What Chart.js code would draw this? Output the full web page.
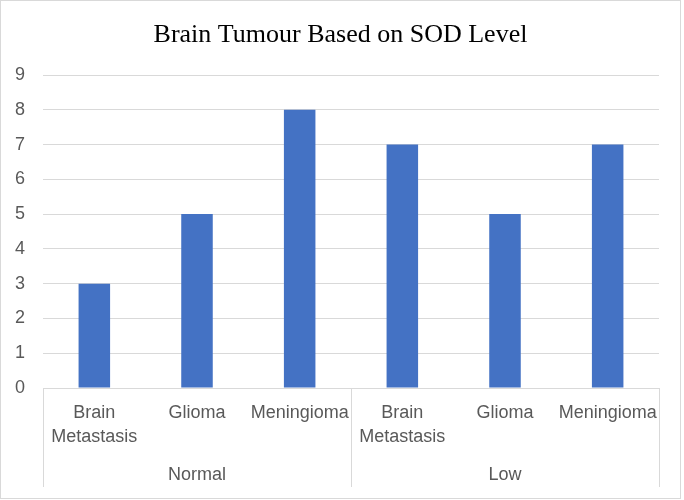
<!DOCTYPE html>
<html>
<head>
<meta charset="utf-8">
<script src="https://cdn.jsdelivr.net/npm/chart.js@4"></script>
<style>
  html, body { margin: 0; padding: 0; background: #ffffff; }
  #frame { position: absolute; left: 0; top: 0; width: 679px; height: 497px; border: 1px solid #d9d9d9; background: #fff; }
  canvas { display: block; }
</style>
</head>
<body>
<div id="frame"><canvas id="c" width="679" height="497"></canvas></div>
<script>
const titleText = 'Brain Tumour Based on SOD Level';
const categories = [['Brain', 'Metastasis'], 'Glioma', 'Meningioma', ['Brain', 'Metastasis'], 'Glioma', 'Meningioma'];
const groups = ['Normal', 'Low'];
const groupSizes = [3, 3];
const values = [3, 5, 8, 7, 5, 7];
const yTicks = [0, 1, 2, 3, 4, 5, 6, 7, 8, 9];

const tickFont = { family: 'Liberation Sans', size: 18, lineHeight: '24px' };
const tickColor = '#595959';
const lineColor = '#d9d9d9';

const separators = {
  id: 'separators',
  afterDraw(chart) {
    const x = chart.scales.x, x2 = chart.scales.x2;
    const ctx = chart.ctx;
    const xs = [x.left];
    let idx = 0;
    for (let g = 0; g < groupSizes.length; g++) {
      idx += groupSizes[g];
      if (idx < categories.length) {
        xs.push((x.getPixelForValue(idx - 1) + x.getPixelForValue(idx)) / 2);
      }
    }
    xs.push(x.right);
    ctx.save();
    ctx.strokeStyle = lineColor;
    ctx.lineWidth = 1;
    ctx.beginPath();
    xs.forEach(px => {
      const p = Math.round(px) + 0.5;
      ctx.moveTo(p, chart.chartArea.bottom);
      ctx.lineTo(p, x2.bottom);
    });
    ctx.stroke();
    ctx.restore();
  }
};

new Chart(document.getElementById('c'), {
  type: 'bar',
  data: {
    labels: categories,
    datasets: [{
      data: values,
      backgroundColor: '#4472C4',
      borderWidth: 0,
      categoryPercentage: 1,
      barPercentage: 0.307
    }]
  },
  options: {
    responsive: false,
    animation: false,
    devicePixelRatio: 1,
    layout: { padding: { left: 0, right: 0, top: 0, bottom: 11 } },
    plugins: {
      legend: { display: false },
      tooltip: { enabled: false },
      title: {
        display: true,
        text: titleText,
        color: '#000000',
        font: { family: 'Liberation Serif', size: 26, weight: 'normal', lineHeight: 1.2 },
        padding: { top: 18.4, bottom: 24.4 }
      }
    },
    scales: {
      y: {
        min: 0,
        max: 9,
        afterBuildTicks(scale) { scale.ticks = yTicks.map(v => ({ value: v })); },
        afterFit(scale) { scale.width = 42; },
        border: { display: false },
        grid: { color: lineColor, drawTicks: false, lineWidth: 1 },
        ticks: { color: tickColor, font: tickFont, padding: 18 }
      },
      yr: {
        position: 'right',
        min: 0,
        max: 9,
        afterFit(scale) { scale.width = 21; },
        border: { display: false },
        grid: { display: false, drawTicks: false },
        ticks: { display: false }
      },
      x: {
        type: 'category',
        position: 'bottom',
        weight: 0,
        offset: true,
        afterFit(scale) { scale.height = 61; },
        border: { display: false },
        grid: { display: false, drawTicks: false },
        ticks: { color: tickColor, font: tickFont, padding: 13, maxRotation: 0, autoSkip: false }
      },
      x2: {
        type: 'category',
        position: 'bottom',
        weight: 1,
        labels: groups,
        offset: true,
        afterFit(scale) { scale.height = 38; },
        border: { display: false },
        grid: { display: false, drawTicks: false },
        ticks: { color: tickColor, font: tickFont, padding: 14, maxRotation: 0, autoSkip: false }
      }
    }
  },
  plugins: [separators]
});
</script>
</body>
</html>
